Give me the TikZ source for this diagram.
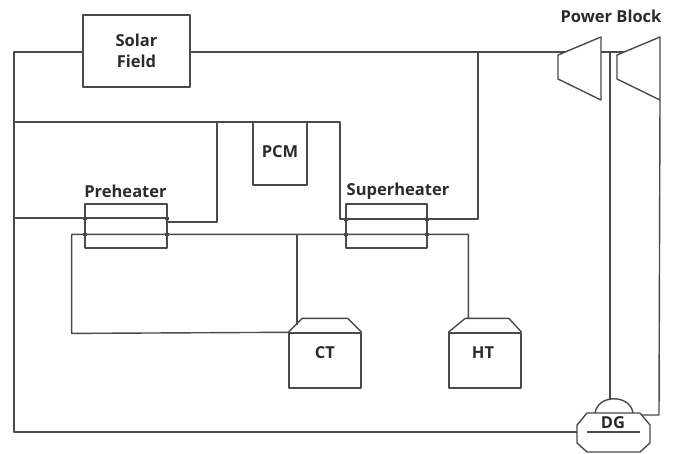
\documentclass[tikz,border=0pt]{standalone}
\usepackage{fontspec}
\setmainfont{Open Sans}
\usepackage{xcolor}
\usetikzlibrary{calc}
\definecolor{pipecol}{HTML}{4A4A4A}
\definecolor{labelcol}{HTML}{2B2B2B}
\tikzset{
  pipe/.style={draw=pipecol, line width=1.4pt, line join=round},
  unit/.style={pipe, rectangle, inner sep=0pt, text=labelcol, font=\fontsize{16.5}{21}\selectfont\bfseries, align=center},
  tag/.style={inner sep=0pt, text=labelcol, font=\fontsize{16.5}{20}\selectfont\bfseries},
  tick/.style={draw=pipecol, line width=2.4pt}
}
\begin{document}
\begin{tikzpicture}[x=1pt,y=-1pt]
\useasboundingbox (0,0) rectangle (678,453);
% boxes
\node[unit,minimum width=107,minimum height=72] (solar) at (136.5,51) {Solar\\Field};
\node[unit,minimum width=54,minimum height=63] (pcm) at (280,153.5) {};
\node[tag] (pcmtag) at (280,152) {PCM};
\node[unit,minimum width=82,minimum height=44] (pre) at (126,226) {};
\node[unit,minimum width=81,minimum height=44] (sup) at (386.5,226) {};
\node[tag] (pretag) at (125.5,191) {Preheater};
\node[tag] (suptag) at (398,191) {Superheater};
\node[unit,minimum width=72,minimum height=55] (ct) at (325,360.5) {};
\node[unit,minimum width=72,minimum height=55] (ht) at (485,360.5) {};
\node[tag] (cttag) at (325,353) {CT};
\node[tag] (httag) at (483,353) {HT};
\node[tag] (powertag) at (611,16) {Power Block};
% tank roofs
\foreach \n/\a/\b in {ct/14/14,ht/17/13}{
  \draw[pipe] (\n.north west) -- ($(\n.north west)+(\a,-14)$) -- ($(\n.north east)+(-\b,-14)$) -- (\n.north east);
}
% turbines
\foreach \n/\x in {ta/558,tb/617}{
  \coordinate (\n-in) at (\x,55);
  \coordinate (\n-port) at ({\x+7},52);
  \coordinate (\n-top) at ({\x+43},37);
  \coordinate (\n-bot) at ({\x+43},100);
  \coordinate (\n-low) at (\x,79);
  \draw[pipe] (\n-in) -- (\n-top) -- (\n-bot) -- (\n-low) -- cycle;
}
% generator
\coordinate (dga) at (595,413);
\coordinate (dgb) at (633,413);
\coordinate (dgl) at (577,432);
\draw[pipe] (587,413) -- (640,413) -- (650,425) -- (650,443) -- (640,452) -- (587,452) -- (577,443) -- (dgl) -- (577,425) -- cycle;
\draw[pipe] (dga) .. controls (598,394) and (630,394) .. (dgb);
\draw[pipe] (587,432) -- (640,432);
\node[tag] (dgtag) at (613,423) {DG};
% junctions
\coordinate (sfl) at (14,52);
\coordinate (hot) at (478,52);
\coordinate (mid) at (610,52);
\coordinate (prel) at (85,218);
\coordinate (prer) at (167,218);
\coordinate (prex) at (167,222);
\coordinate (prelow) at (85,234);
\coordinate (prelor) at (167,234);
\coordinate (supl) at (346,219);
\coordinate (supr) at (427,219);
\coordinate (suplow) at (346,234.4);
\coordinate (suplor) at (427,234.4);
\coordinate (cold) at (297,234);
\coordinate (htin) at (468.4,319);
\coordinate (ctin) at (297,325);
% pipes
\draw[pipe] (solar.west |- sfl) -- (sfl) -- (14,432) -- (dgl);
\draw[pipe] (solar.east |- sfl) -- (ta-port);
\draw[pipe] (14,122) -- (340,122) -- (340,219) -- (supl);
\draw[pipe] (14,218) -- (prel) -- (prer);
\draw[pipe] (prex) -- (217,222) -- (217,122);
\draw[pipe] (supl) -- (supr) -- (478,219) -- (hot);
\draw[pipe] (ct.north west) -- (71.6,333.4) -- (71.6,234.4) -- (suplow) -- (suplor) -- (468.4,234.4) -- (htin);
\draw[pipe] (cold) -- (ctin);
\draw[pipe] (ta-top |- tb-port) -- (tb-port);
\draw[pipe] (mid) -- (610,400);
\draw[pipe] (tb-bot) -- (659,415) -- (642,415);
% small marks
\foreach \n in {solar,pcm,pre,sup,ht}{
  \draw[tick] ($(\n.south)+(-4,-1)$) -- ($(\n.south)+(4,-1)$);
}
\foreach \p in {prel,prer,prelow,prelor,supl,supr,suplow,suplor}{
  \fill[pipecol] ($(\p)+(-2,-1.5)$) rectangle ($(\p)+(2,1.5)$);
}
\end{tikzpicture}
\end{document}
